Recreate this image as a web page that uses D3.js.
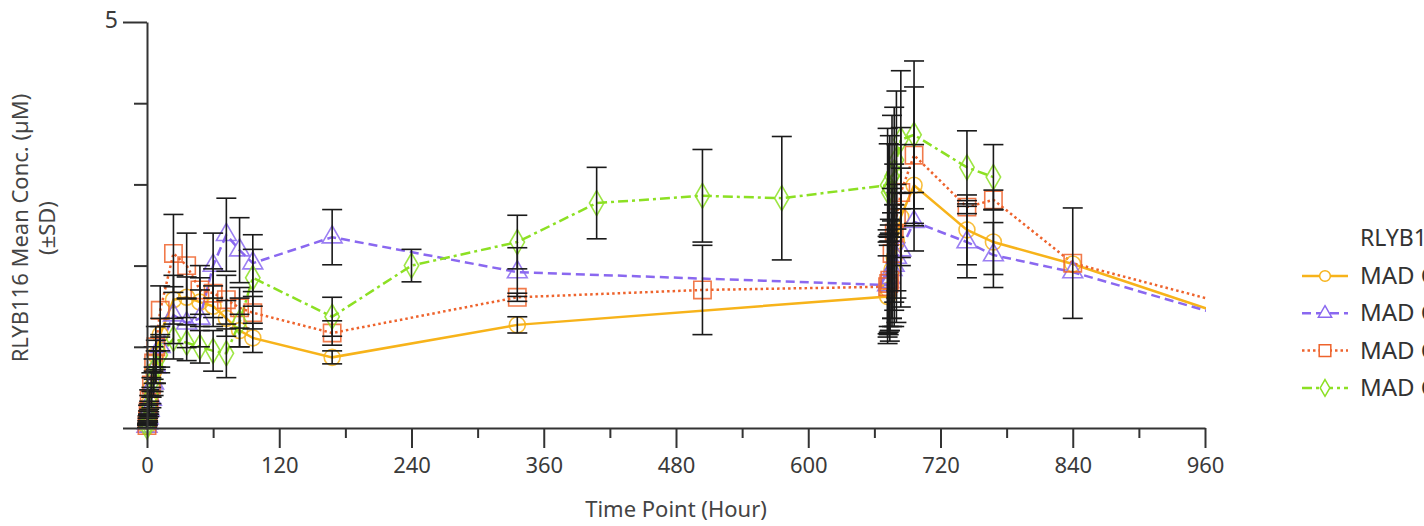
<!DOCTYPE html>
<html>
<head>
<meta charset="utf-8">
<script src="https://cdn.jsdelivr.net/npm/d3@7"></script>
<style>
  body { margin: 0; background: #fff; }
  svg { display: block; font-family: "Noto Sans", "Open Sans", sans-serif; }
</style>
</head>
<body>
<svg id="viz" width="1424" height="526"></svg>
<script>
// Sampling times (hours)
const times = [0, 0.5, 1, 2, 4, 6, 8, 12, 24, 36, 48, 60, 72, 84, 96, 168, 240, 336, 408, 504, 576,
    672, 673, 674, 676, 678, 680, 684, 696, 744, 768, 840, 1008];

// Mean concentrations per group (null = not sampled)
const goldMean = [0.02, 0.08, 0.15, 0.3, 0.5, 0.7, 0.9, 1.15, 1.58, 1.61, 1.55, 1.5, 1.35, 1.2, 1.11, 0.87, null, 1.27, null, null, null,
    1.62, 1.7, 1.8, 1.95, 2.1, 2.3, 2.6, 2.99, 2.44, 2.29, 2.02, 1.26];
const goldSd = [0.02, 0.04, 0.06, 0.1, 0.12, 0.15, 0.18, 0.2, 0.3, 0.25, 0.3, 0.25, 0.22, 0.2, 0.18, 0.08, null, 0.1, null, null, null,
    0.5, 0.55, 0.6, 0.6, 0.65, 0.7, 0.6, 0.5, 0.43, 0.4, null, null];

const purpleMean = [0.02, 0.06, 0.12, 0.22, 0.35, 0.55, 0.75, 1.0, 1.39, 1.29, 1.35, 2.0, 2.38, 2.19, 2.03, 2.35, null, 1.92, null, null, null,
    1.76, 1.8, 1.85, 1.95, 2.0, 2.1, 2.19, 2.54, 2.29, 2.13, 1.92, 1.26];
const purpleSd = [0.02, 0.03, 0.05, 0.08, 0.1, 0.15, 0.2, 0.25, 0.35, 0.3, 0.35, 0.4, 0.45, 0.4, 0.35, 0.34, null, 0.3, null, null, null,
    0.6, 0.55, 0.65, 0.7, 0.75, 0.8, 0.7, 0.36, 0.44, 0.4, null, null];

const orangeMean = [0.03, 0.1, 0.2, 0.35, 0.53, 0.8, 1.0, 1.45, 2.15, 2.0, 1.7, 1.66, 1.58, 1.48, 1.42, 1.17, null, 1.61, null, 1.7, null,
    1.74, 1.78, 1.82, 2.15, 2.4, 2.59, 2.9, 3.36, 2.72, 2.81, 2.03, 1.43];
const orangeSd = [0.03, 0.05, 0.08, 0.12, 0.15, 0.2, 0.25, 0.3, 0.48, 0.4, 0.3, 0.3, 0.3, 0.25, 0.2, 0.15, null, 0.05, null, 0.55, null,
    0.7, 0.6, 0.75, 0.8, 0.85, 0.9, 0.8, 0.84, 0.08, 0.12, 0.68, null];

const greenMean = [0.02, 0.06, 0.12, 0.25, 0.4, 0.6, 0.75, 0.9, 1.1, 1.05, 1.0, 0.95, 0.92, 1.3, 1.85, 1.37, 2.0, 2.29, 2.77, 2.86, 2.83,
    2.99, 2.9, 2.95, 3.1, 3.15, 3.3, 3.55, 3.61, 3.21, 3.09, null, null];
const greenSd = [0.02, 0.03, 0.05, 0.08, 0.1, 0.15, 0.2, 0.22, 0.25, 0.22, 0.2, 0.25, 0.3, 0.3, 0.35, 0.24, 0.2, 0.33, 0.44, 0.57, 0.76,
    0.7, 0.6, 0.65, 0.75, 0.8, 0.85, 0.85, 0.91, 0.45, 0.4, null, null];

const groupNames = ["MAD Cohort 1", "MAD Cohort 2", "MAD Cohort 3", "MAD Cohort 4"];
const xTicks = [0, 120, 240, 360, 480, 600, 720, 840, 960];

const series = [
    { name: groupNames[0], mean: goldMean, sd: goldSd, color: "#F7B31A", dash: null, symbol: d3.symbolCircle, size: 200 },
    { name: groupNames[1], mean: purpleMean, sd: purpleSd, color: "#8A68F0", dash: "9,5", symbol: d3.symbolTriangle, size: 170 },
    { name: groupNames[2], mean: orangeMean, sd: orangeSd, color: "#EE632C", dash: "2.5,3", symbol: d3.symbolSquare, size: 300 },
    { name: groupNames[3], mean: greenMean, sd: greenSd, color: "#8CE023", dash: "10,4,3,4", symbol: d3.symbolDiamond, size: 180 }
];

const svg = d3.select("#viz");

const x = d3.scaleLinear().domain([0, 960]).range([147, 1205]);
const y = d3.scaleLinear().domain([0, 5]).range([428, 22]);

// clip at the right end of the time axis
svg.append("clipPath").attr("id", "plotClip")
    .append("rect").attr("x", 0).attr("y", 0).attr("width", 1206).attr("height", 526);

const pts = s => times.map((t, i) => ({ t, v: s.mean[i], sd: s.sd[i] })).filter(d => d.v != null);

const plot = svg.append("g").attr("clip-path", "url(#plotClip)");

const line = d3.line().x(d => x(d.t)).y(d => y(d.v));

// lines
series.forEach(s => {
    plot.append("path")
        .datum(pts(s))
        .attr("d", line)
        .attr("fill", "none")
        .attr("stroke", s.color)
        .attr("stroke-width", 2.5)
        .attr("stroke-dasharray", s.dash);
});

// markers
series.forEach(s => {
    plot.selectAll(null)
        .data(pts(s))
        .enter().append("path")
        .attr("d", d3.symbol().type(s.symbol).size(s.size))
        .attr("transform", d => `translate(${x(d.t)},${y(d.v)})`)
        .attr("fill", "none")
        .attr("stroke", s.color)
        .attr("stroke-width", 1.6)
        .attr("opacity", 0.85);
});

// error bars
series.forEach(s => {
    const eb = plot.selectAll(null)
        .data(pts(s).filter(d => d.sd != null))
        .enter().append("g")
        .attr("stroke", "#1a1a1a")
        .attr("stroke-width", 1.6);
    eb.append("line")
        .attr("x1", d => x(d.t)).attr("x2", d => x(d.t))
        .attr("y1", d => y(d.v - d.sd)).attr("y2", d => y(d.v + d.sd));
    eb.append("line")
        .attr("x1", d => x(d.t) - 10).attr("x2", d => x(d.t) + 10)
        .attr("y1", d => y(d.v + d.sd)).attr("y2", d => y(d.v + d.sd));
    eb.append("line")
        .attr("x1", d => x(d.t) - 10).attr("x2", d => x(d.t) + 10)
        .attr("y1", d => y(d.v - d.sd)).attr("y2", d => y(d.v - d.sd));
});

// axes
const xAxis = svg.append("g").attr("transform", "translate(0,428)")
    .call(d3.axisBottom(x).tickValues(xTicks).tickSize(20).tickSizeOuter(0).tickPadding(9));
svg.append("g").attr("transform", "translate(0,428)")
    .call(d3.axisBottom(x).tickValues(xTicks.slice(0, -1).map(t => t + 60)).tickSize(10).tickFormat(""))
    .select(".domain").remove();

const yAxis = svg.append("g").attr("transform", "translate(147,0)")
    .call(d3.axisLeft(y).tickValues([0, 5]).tickSize(24).tickSizeOuter(0).tickPadding(5)
        .tickFormat(d => d === 5 ? "5" : ""));
svg.append("g").attr("transform", "translate(147,0)")
    .call(d3.axisLeft(y).tickValues([1, 2, 3, 4]).tickSize(13).tickFormat(""))
    .select(".domain").remove();

svg.selectAll(".domain").attr("stroke", "#333").attr("stroke-width", 2);
svg.selectAll(".tick line").attr("stroke", "#333").attr("stroke-width", 2);
xAxis.selectAll(".tick text").attr("font-size", 22).attr("fill", "#3a3a3a").attr("font-family", "Noto Sans");
yAxis.selectAll(".tick text").attr("font-size", 23).attr("fill", "#3a3a3a").attr("font-family", "Noto Sans").attr("dy", "0.25em");

// axis titles
svg.append("text")
    .attr("x", 676).attr("y", 517)
    .attr("text-anchor", "middle")
    .attr("font-size", 22).attr("fill", "#444")
    .text("Time Point (Hour)");

const yt = svg.append("text")
    .attr("transform", "translate(28,228) rotate(-90)")
    .attr("text-anchor", "middle")
    .attr("font-size", 22).attr("fill", "#444");
yt.append("tspan").attr("x", 0).attr("dy", 0).text("RLYB116 Mean Conc. (µM)");
yt.append("tspan").attr("x", 0).attr("dy", 27).text("(±SD)");

// legend
const legend = svg.append("g");
legend.append("text")
    .attr("x", 1360).attr("y", 246)
    .attr("font-size", 23).attr("fill", "#333")
    .text("RLYB116 Cohort");

series.forEach((s, i) => {
    const ly = 276 + i * 37.3;
    legend.append("line")
        .attr("x1", 1302).attr("x2", 1348).attr("y1", ly).attr("y2", ly)
        .attr("stroke", s.color).attr("stroke-width", 2.5)
        .attr("stroke-dasharray", s.dash);
    legend.append("path")
        .attr("d", d3.symbol().type(s.symbol).size(s.size * 0.45))
        .attr("transform", `translate(1325,${ly})`)
        .attr("fill", "#fff").attr("stroke", s.color).attr("stroke-width", 1.5);
    legend.append("text")
        .attr("x", 1360).attr("y", ly + 8)
        .attr("font-size", 24).attr("fill", "#333")
        .text(s.name);
});
</script>
</body>
</html>
